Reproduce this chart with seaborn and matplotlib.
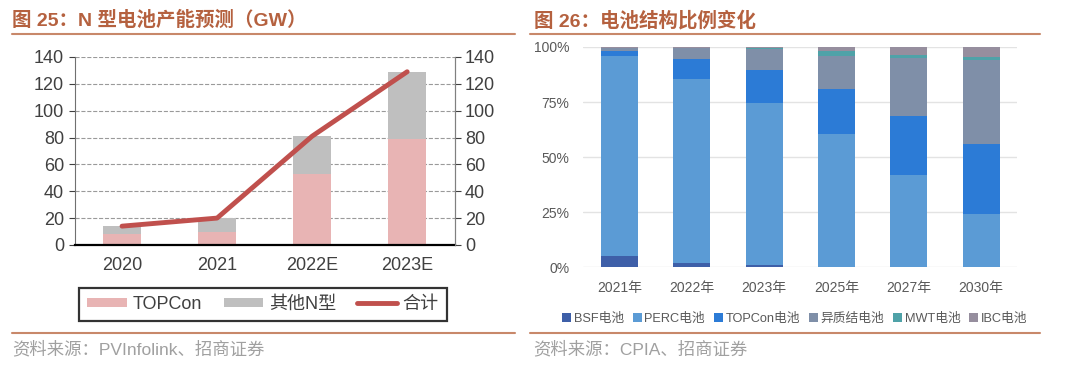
import numpy as np
import pandas as pd
import matplotlib
matplotlib.use("Agg")
import matplotlib.pyplot as plt
from matplotlib.lines import Line2D
from matplotlib.patches import Patch
import seaborn as sns

# left chart: N-type cell capacity (GW)
years = ['2020', '2021', '2022E', '2023E']
topcon = [8, 10, 53, 79]
other_n = [6, 10, 28, 50]
total = [14, 20, 81, 129]

# right chart: cell structure share (%)
periods = ['2021年', '2022年', '2023年', '2025年', '2027年', '2030年']
bsf = [5, 2, 1, 0, 0, 0]
perc = [91, 83.5, 73.5, 60.5, 42, 24]
topcon_share = [2, 9, 15, 20.3, 26.5, 32]
hjt = [1.5, 5, 9.5, 15.2, 26.5, 38]
mwt = [0.2, 0.2, 0.5, 2, 1.5, 1.5]
ibc = [0.3, 0.3, 0.5, 2, 3.5, 4.5]

sns.set_style("white")
plt.rcParams['font.family'] = ['Liberation Sans', 'Noto Sans CJK SC']

title_color = '#B5613F'
rule_color = '#C8886A'

fig = plt.figure(figsize=(10.8, 3.7), dpi=100)

# ---------- left chart ----------
ax = fig.add_axes([0.069, 0.338, 0.352, 0.508])
df_left = pd.DataFrame({'year': years, 'topcon': topcon, 'other': other_n, 'total': total})
stack_top = df_left['topcon'] + df_left['other']
sns.barplot(x=df_left['year'], y=stack_top, color='#BFBFBF', width=0.4, saturation=1,
            linewidth=0, ax=ax)
sns.barplot(x=df_left['year'], y=df_left['topcon'], color='#E8B4B4', width=0.4, saturation=1,
            linewidth=0, ax=ax)
ax.set_ylim(0, 140)
ax.set_yticks(range(0, 141, 20))
ax.yaxis.grid(True, linestyle='--', color='#9A9A9A', linewidth=0.8)
ax.set_axisbelow(True)
ax.set_xlabel('')
ax.set_ylabel('')
ax.tick_params(axis='y', labelsize=13, colors='#404040', length=4, direction='out', left=True)
ax.tick_params(axis='x', which='major', labelsize=13, colors='#404040', length=0, pad=9)
ax.set_xticks(np.arange(len(years) + 1) - 0.5, minor=True)
ax.tick_params(axis='x', which='minor', length=5, width=1.5, color='black', direction='out')
ax.set_xlim(-0.5, len(years) - 0.5)
ax.spines['top'].set_visible(False)
ax.spines['left'].set_color('#707070')
ax.spines['right'].set_color('#808080')
ax.spines['bottom'].set_color('black')
ax.spines['bottom'].set_linewidth(1.6)

ax2 = ax.twinx()
sns.pointplot(x=df_left['year'], y=df_left['total'], color='#C0504D', markers='',
              linewidth=3.5, errorbar=None, ax=ax2)
ax2.set_ylim(0, 140)
ax2.set_yticks(range(0, 141, 20))
ax2.set_ylabel('')
ax2.set_xlim(-0.5, len(years) - 0.5)
ax2.tick_params(axis='y', labelsize=13, colors='#404040', length=4, direction='out', right=True)
ax2.spines['top'].set_visible(False)
ax2.spines['left'].set_visible(False)
ax2.spines['bottom'].set_visible(False)
ax2.spines['right'].set_color('#808080')

handles = [Patch(facecolor='#E8B4B4', edgecolor='none', label='TOPCon'),
           Patch(facecolor='#BFBFBF', edgecolor='none', label='其他N型'),
           Line2D([], [], color='#C0504D', linewidth=3.5, label='合计')]
leg = fig.legend(handles=handles, loc='center', bbox_to_anchor=(0.2435, 0.177), ncol=3,
                 fontsize=13, frameon=True, fancybox=False, edgecolor='black',
                 handlelength=2.2, handleheight=0.45, handletextpad=0.3,
                 columnspacing=1.2, borderpad=0.45, borderaxespad=0)
leg.get_frame().set_linewidth(1.6)
for t in leg.get_texts():
    t.set_color('#404040')

# ---------- right chart ----------
axr = fig.add_axes([0.54, 0.278, 0.402, 0.595])
df_right = pd.DataFrame({'period': periods, 'BSF电池': bsf, 'PERC电池': perc,
                         'TOPCon电池': topcon_share, '异质结电池': hjt,
                         'MWT电池': mwt, 'IBC电池': ibc})
series = ['BSF电池', 'PERC电池', 'TOPCon电池', '异质结电池', 'MWT电池', 'IBC电池']
colors = ['#3E5FA8', '#5B9BD5', '#2C7BD6', '#7F8FA8', '#4FA2A8', '#968E9E']
cum = df_right[series].cumsum(axis=1)
for name, col in reversed(list(zip(series, colors))):
    sns.barplot(x=df_right['period'], y=cum[name] / 100, color=col, width=0.51,
                saturation=1, linewidth=0, ax=axr)
axr.set_ylim(0, 1)
axr.set_yticks([0, 0.25, 0.5, 0.75, 1.0])
axr.set_yticklabels(['0%', '25%', '50%', '75%', '100%'])
axr.yaxis.grid(True, color='#E3E3E3', linewidth=1)
axr.set_axisbelow(True)
axr.set_xlabel('')
axr.set_ylabel('')
axr.tick_params(axis='both', labelsize=10, colors='#595959', length=0)
axr.tick_params(axis='y', pad=10)
axr.tick_params(axis='x', pad=10)
sns.despine(ax=axr, left=True, bottom=True)

rh = [Patch(facecolor=c, edgecolor='none', label=n) for n, c in zip(series, colors)]
legr = fig.legend(handles=rh, loc='center', bbox_to_anchor=(0.736, 0.138), ncol=6,
                  fontsize=9.2, frameon=False, handlelength=0.7, handleheight=0.7,
                  handletextpad=0.2, columnspacing=0.7, borderaxespad=0)
for t in legr.get_texts():
    t.set_color('#595959')

# ---------- titles, rules, sources ----------
fig.text(0.011, 0.945, '图 25：N 型电池产能预测（GW）', fontsize=14, fontweight='bold',
         color=title_color, va='center')
fig.text(0.494, 0.945, '图 26：电池结构比例变化', fontsize=14, fontweight='bold',
         color=title_color, va='center')
for x0, x1 in [(0.011, 0.477), (0.491, 0.963)]:
    fig.add_artist(Line2D([x0, x1], [0.908, 0.908], color=rule_color, linewidth=1.5))
    fig.add_artist(Line2D([x0, x1], [0.1, 0.1], color=rule_color, linewidth=1.5))
fig.text(0.011, 0.058, '资料来源：PVInfolink、招商证券', fontsize=12.5, color='#A0A0A0', va='center')
fig.text(0.494, 0.058, '资料来源：CPIA、招商证券', fontsize=12.5, color='#A0A0A0', va='center')

fig.savefig('out.png', dpi=100)
